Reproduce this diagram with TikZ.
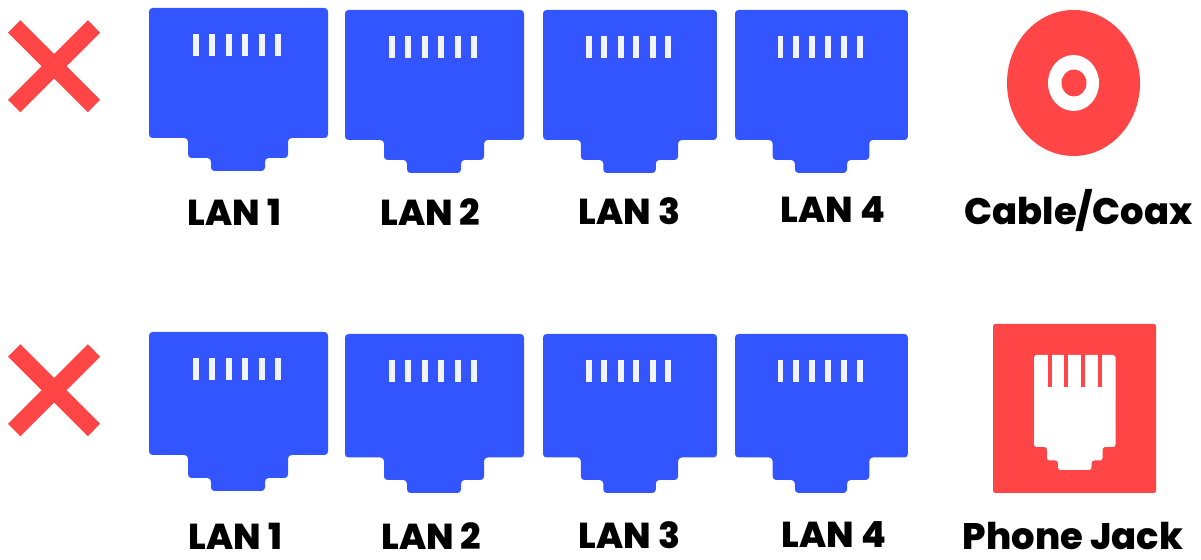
\documentclass[tikz,border=0pt]{standalone}
\usepackage{fontspec}
\setmainfont{Poppins}[BoldFont={Poppins ExtraBold}]
\definecolor{portblue}{HTML}{3355FF}
\definecolor{crossred}{HTML}{FF4545}
\tikzset{
  portbody/.style={fill=portblue,rounded corners=2pt},
  portlabel/.style={font=\fontsize{20.5}{24}\selectfont\bfseries,text=black,inner sep=0pt},
  iconlabel/.style={font=\fontsize{21}{25}\selectfont\bfseries,text=black,inner sep=0pt},
  crossbar/.style={draw=crossred,line width=0.35cm}
}
\newcommand{\lanport}[5]{
\begin{scope}[shift={(#1,#2)},xscale=#3]
\fill [portbody] (0,0) -- (179,0) -- (179,#4) -- (139,#4) -- (139,#5) -- (116,#5) -- (116,#5+13) -- (62,#5+13) -- (62,#5) -- (39,#5) -- (39,#4) -- (0,#4) -- cycle;
\foreach \slot in {44,60,77,93,110,126}
  \fill [white!93!portblue] (\slot,26) rectangle ++(6,22);
\end{scope}
}
\newcommand{\redcross}[1]{
\begin{scope}[shift={(0,#1)}]
\draw [crossbar] (14.2,26.5) -- (94,106);
\draw [crossbar] (94,26.5) -- (14.2,106);
\end{scope}
}

\begin{document}
\begin{tikzpicture}[x=0.02cm,y=-0.02cm]
\useasboundingbox (0,0) rectangle (1201,560);
% first row
\redcross{0}
\lanport{149}{8}{1}{130}{150}
\lanport{345}{10}{1}{130}{150}
\lanport{543}{10}{0.972}{130}{150}
\lanport{735}{10}{0.966}{130}{150}
\node [portlabel] (lana1) at (234.5,212) {LAN 1};
\node [portlabel] (lana2) at (430.5,212) {LAN 2};
\node [portlabel] (lana3) at (629.5,211) {LAN 3};
\node [portlabel] (lana4) at (833,210) {LAN 4};
% coax
\fill [crossred] (1073.5,83) ellipse [x radius=66.5,y radius=73];
\fill [white] (1073.5,83) ellipse [x radius=25.5,y radius=28];
\fill [crossred] (1074,83) ellipse [x radius=12.5,y radius=13.5];
\node [iconlabel] (coax) at (1078.5,211) {Cable/Coax};
% second row
\redcross{324}
\lanport{149}{332}{1}{123}{146}
\lanport{345}{334}{1}{123.5}{146}
\lanport{543}{334}{0.972}{123.5}{146}
\lanport{735}{334}{0.966}{123.5}{146}
\node [portlabel] (lanb1) at (235.5,536.5) {LAN 1};
\node [portlabel] (lanb2) at (431.5,536.5) {LAN 2};
\node [portlabel] (lanb3) at (629.5,535.5) {LAN 3};
\node [portlabel] (lanb4) at (834,534.5) {LAN 4};
% phone jack
\fill [crossred,rounded corners=1pt] (993,324) rectangle (1156,493);
\fill [white,rounded corners=1.5pt] (1034,355) -- (1115.5,355) -- (1115.5,447) -- (1102.5,447) -- (1102.5,460.5) -- (1091.5,460.5) -- (1091.5,470) -- (1058,470) -- (1058,460.5) -- (1047,460.5) -- (1047,447) -- (1034,447) -- cycle;
\foreach \slot in {1047.7,1064.3,1080.7,1097.7}
  \fill [crossred] (\slot,354) rectangle ++(4,33);
\node [iconlabel] (jack) at (1073,536) {Phone Jack};
\end{tikzpicture}
\end{document}
